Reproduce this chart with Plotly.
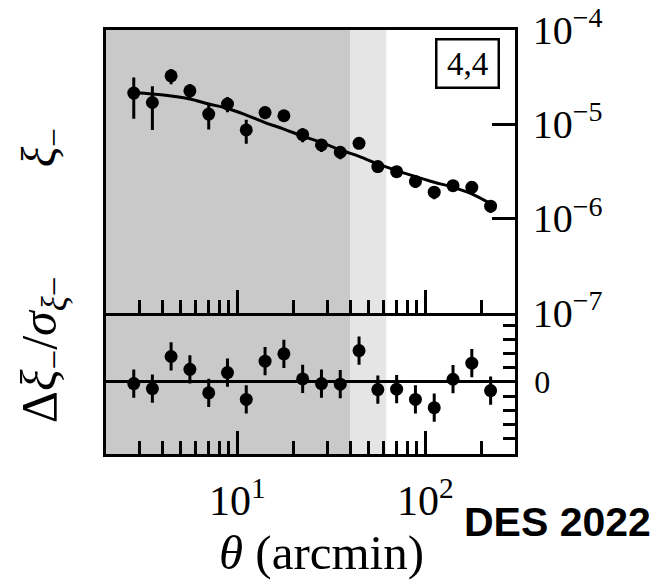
import plotly.graph_objects as go
import math

# ---- data ----
theta = [2.81, 3.53, 4.44, 5.59, 7.04, 8.86, 11.15, 14.04, 17.68, 22.25,
         28.01, 35.27, 44.40, 55.89, 70.36, 88.58, 111.52, 140.39, 176.74, 222.50]
xi_minus = [2.14e-5, 1.70e-5, 3.26e-5, 2.26e-5, 1.28e-5, 1.64e-5, 8.69e-6, 1.33e-5, 1.23e-5, 7.74e-6,
            6.03e-6, 5.04e-6, 6.27e-6, 3.55e-6, 3.14e-6, 2.47e-6, 1.90e-6, 2.23e-6, 2.14e-6, 1.35e-6]
xi_err = [1.0e-5, 0.83e-5, 0.6e-5, 0.41e-5, 0.4e-5, 0.3e-5, 0.25e-5, 0.2e-5, 0.17e-5, 1.3e-6,
          0.95e-6, 0.8e-6, 0.6e-6, 0.5e-6, 0.4e-6, 0.35e-6, 0.3e-6, 0.25e-6, 0.22e-6, 0.2e-6]
xi_model = [2.17e-5, 2.09e-5, 1.99e-5, 1.85e-5, 1.64e-5, 1.47e-5, 1.25e-5, 1.04e-5, 8.89e-6, 7.46e-6,
            6.41e-6, 5.33e-6, 4.56e-6, 3.79e-6, 3.22e-6, 2.78e-6, 2.42e-6, 2.14e-6, 1.82e-6, 1.43e-6]
resid = [-0.12, -0.47, 1.80, 0.89, -0.77, 0.66, -1.24, 1.47, 1.99, 0.21,
         -0.12, -0.16, 2.22, -0.54, -0.51, -1.24, -1.82, 0.19, 1.33, -0.61]
resid_err = [1.0] * 20

theta_range = [2.0, 300.0]
scale_cut_dark = 40.0
scale_cut_light = 62.0
bin_label = "4,4"

x_major = [10, 100]
x_major_text = ["10<sup>1</sup>", "10<sup>2</sup>"]
x_minor = [3, 4, 5, 6, 7, 8, 9, 20, 30, 40, 50, 60, 70, 80, 90, 200]
y_top_ticks = [1e-7, 1e-6, 1e-5, 1e-4]
y_top_text = ["10<sup>−7</sup>", "10<sup>−6</sup>", "10<sup>−5</sup>", "10<sup>−4</sup>"]
y_bot_minor = [-4, -3, -2, -1, 1, 2, 3, 4]

SERIF = "Liberation Serif"
DARK = "#c9c9c9"
LIGHT = "#e5e5e5"
LW = 2.6

fig = go.Figure()

# top panel: data + model
fig.add_trace(go.Scatter(
    x=theta, y=xi_model, mode="lines", line=dict(color="black", width=3, shape="spline"),
    xaxis="x2", yaxis="y2", showlegend=False, hoverinfo="skip"))
fig.add_trace(go.Scatter(
    x=theta, y=xi_minus, mode="markers",
    marker=dict(color="black", size=13),
    error_y=dict(type="data", array=xi_err, color="black", thickness=3, width=0),
    xaxis="x2", yaxis="y2", showlegend=False))

# bottom panel: residuals
fig.add_trace(go.Scatter(
    x=theta, y=resid, mode="markers",
    marker=dict(color="black", size=13),
    error_y=dict(type="data", array=resid_err, color="black", thickness=3, width=0),
    xaxis="x", yaxis="y", showlegend=False))

# scale-cut shading, spanning both panels
for x0, x1, col in [(theta_range[0], scale_cut_dark, DARK), (scale_cut_dark, scale_cut_light, LIGHT)]:
    fig.add_shape(type="rect", xref="x", yref="paper", x0=x0, x1=x1, y0=0, y1=1,
                  fillcolor=col, line=dict(width=0), layer="below")

xr = [math.log10(theta_range[0]), math.log10(theta_range[1])]
common_x = dict(type="log", range=xr, showgrid=False, zeroline=False, automargin=False,
                showline=True, linecolor="black", linewidth=LW,
                ticks="inside", ticklen=23, tickwidth=LW, tickcolor="black",
                tickvals=x_major,
                minor=dict(tickvals=x_minor, ticks="inside", ticklen=13, tickwidth=LW,
                           tickcolor="black", showgrid=False))

fig.update_layout(
    template="none",
    width=662, height=581,
    margin=dict(l=106, r=147, t=30, b=127, autoexpand=False),
    paper_bgcolor="white", plot_bgcolor="white",
    xaxis=dict(**common_x, anchor="y", domain=[0, 1], ticktext=x_major_text, mirror=False,
               showticklabels=True, tickfont=dict(family=SERIF, size=42, color="black"),
               ticklabelstandoff=8),
    xaxis2=dict(**common_x, anchor="y2", domain=[0, 1], showticklabels=False, matches="x",
                mirror=True),
    yaxis=dict(domain=[0, 0.3333], range=[-5.1, 4.9], side="right", anchor="x",
               automargin=False,
               showgrid=False, zeroline=True, zerolinecolor="black", zerolinewidth=3,
               showline=True, linecolor="black", linewidth=LW, mirror=True,
               tickvals=[0], ticktext=["0"], ticks="",
               tickfont=dict(family=SERIF, size=32, color="black"), ticklabelstandoff=10,
               minor=dict(tickvals=y_bot_minor, ticks="inside", ticklen=12, tickwidth=LW,
                          tickcolor="black", showgrid=False)),
    yaxis2=dict(domain=[0.3333, 1], type="log", range=[-7, -4], side="right", anchor="x2",
                automargin=False,
                showgrid=False, zeroline=False,
                showline=True, linecolor="black", linewidth=LW, mirror=True,
                tickvals=y_top_ticks, ticktext=y_top_text,
                ticks="inside", ticklen=23, tickwidth=LW, tickcolor="black",
                tickfont=dict(family=SERIF, size=40, color="black"), ticklabelstandoff=7),
)

ann_common = dict(xref="paper", yref="paper", showarrow=False, xanchor="center", yanchor="middle")
annotations = [
    dict(text=bin_label, x=0.884, y=0.921, **ann_common,
         font=dict(family=SERIF, size=33, color="black"),
         bordercolor="black", borderwidth=2.5, borderpad=0, width=60, height=46,
         bgcolor="white"),
    dict(text="<i>ξ</i><sub>−</sub>", x=-0.156, y=0.724, textangle=-90, **ann_common,
         font=dict(family=SERIF, size=48, color="black")),
    dict(text="Δ<i>ξ</i><sub>−</sub>/<i>σ</i><sub><i>ξ</i>−</sub>", x=-0.154, y=0.245,
         textangle=-90, **ann_common, font=dict(family=SERIF, size=50, color="black")),
    dict(text="<i>θ</i> (arcmin)", x=0.528, y=-0.232, **ann_common,
         font=dict(family=SERIF, size=49, color="black")),
    dict(text="<b>DES 2022</b>", x=1.105, y=-0.160, **ann_common,
         font=dict(family="Liberation Sans", size=41, color="black")),
]
fig.update_layout(annotations=annotations)

fig.write_html("out.html")
